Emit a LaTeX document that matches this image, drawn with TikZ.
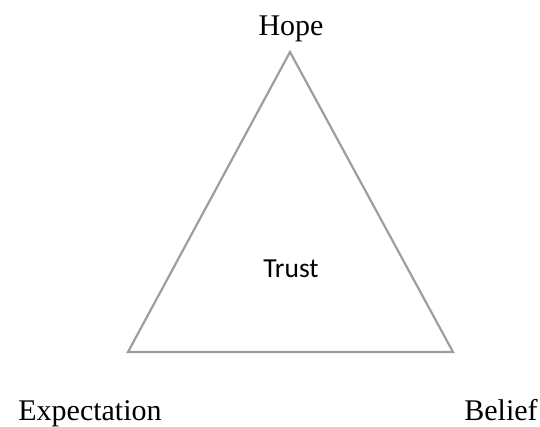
\documentclass[tikz,border=0pt]{standalone}
\usepackage{fontspec}
\setmainfont{Liberation Serif}
\newfontfamily\trustfont{Carlito}
\begin{document}
\begin{tikzpicture}[x=1pt,y=-1pt,
  lbl/.style={font=\fontsize{30}{34}\selectfont, inner sep=0pt, anchor=base},
  edge/.style={draw=black!38, line width=2.2pt, line join=miter}]
\useasboundingbox (0,0) rectangle (540,426);
\coordinate (top) at (290,52);
\coordinate (bl) at (128,352);
\coordinate (br) at (453,352);
\draw[edge] (top) -- (bl) -- (br) -- cycle;
\node[lbl] (hope) at (291,35) {Hope};
\node[inner sep=0pt, anchor=base, font=\trustfont\fontsize{27.5}{31}\selectfont] (trust) at (291,277) {Trust};
\node[lbl] (exp) at (90,420) {Expectation};
\node[lbl] (bel) at (501,420) {Belief};
\end{tikzpicture}
\end{document}
